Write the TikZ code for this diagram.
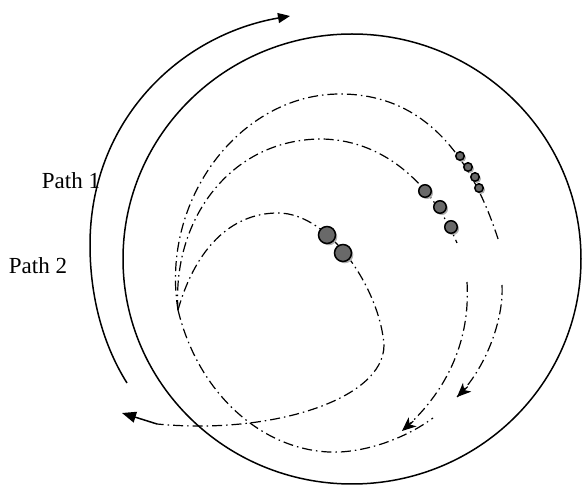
\documentclass[tikz,border=0pt]{standalone}
\usepackage{fontspec}
\setmainfont{Liberation Serif}
\usepackage{tikz}
\definecolor{beadfill}{RGB}{105,105,105}
\definecolor{beadshade}{RGB}{175,175,175}
\usetikzlibrary{arrows.meta,shadows,calc}

\begin{document}
\begin{tikzpicture}[x=1pt,y=-1pt,
		rim/.style={line width=1.5pt},
		track/.style={line width=1.2pt,dash pattern=on 10pt off 4pt on 1.5pt off 4pt},
		bead/.style={circle,draw=black,line width=1.5pt,fill=beadfill,inner sep=0pt,
			drop shadow={shadow xshift=1.8pt,shadow yshift=-1.8pt,fill=beadshade,opacity=1}},
		tip/.style={line width=1.2pt,-{Stealth[length=14pt,width=12pt,inset=4pt]}},
		label/.style={font=\fontsize{23}{27}\selectfont}]
						
						\useasboundingbox (0,0) rectangle (582,486);
						
						\draw[rim] (352,259) ellipse (229 and 225);
						
						\coordinate (sweepstart) at (127,383);
						\coordinate (sweepleft) at (90,245);
						\coordinate (sweepend) at (290,16);
						\draw[rim,-{Triangle[length=12pt,width=10pt]}] (sweepstart)
							.. controls (100,340) and (90,290) .. (sweepleft)
							.. controls (90,120) and (180,35) .. (sweepend);
						
						\node[label] (path1) at (71,181) {Path 1};
						\node[label] (path2) at (38,266) {Path 2};
						
						\coordinate (meet) at (178,310);
						
						\coordinate (innertop) at (278,213);
						\coordinate (innerright) at (384,345);
						\coordinate (innerend) at (157,424);
						\coordinate (innertip) at (122,413);
						\draw[track] (meet) .. controls (195,250) and (230,213) .. (innertop)
							.. controls (330,213) and (380,290) .. (innerright)
							.. controls (384,400) and (270,435) .. (innerend);
						\draw[rim,-{Triangle[length=14pt,width=11pt]}] (innerend) -- (innertip);
						
						\coordinate (midtop) at (320,139);
						\coordinate (midend) at (457,243);
						\coordinate (midstart) at (467,282);
						\coordinate (midtip) at (402,431);
						\draw[track] (meet) .. controls (172,220) and (230,140) .. (midtop)
							.. controls (380,139) and (430,180) .. (midend);
						\draw[track] (midstart) .. controls (470,330) and (455,385) .. (midtip);
						\draw[tip] ($(midtip)!15pt!(455,385)$) -- (midtip);
						
						\coordinate (outtop) at (340,94);
						\coordinate (outend) at (499,242);
						\coordinate (outstart) at (502,285);
						\coordinate (outtip) at (457,397);
						\draw[track] (meet) .. controls (160,200) and (240,94) .. (outtop)
							.. controls (420,94) and (470,150) .. (outend);
						\draw[track] (outstart) .. controls (504,320) and (485,370) .. (outtip);
						\draw[tip] ($(outtip)!15pt!(485,370)$) -- (outtip);
						
						\coordinate (lowbottom) at (340,452);
						\coordinate (lowend) at (433,418);
						\draw[track] (meet) .. controls (200,400) and (270,455) .. (lowbottom)
							.. controls (375,450) and (410,435) .. (lowend);
						
						\node[bead,minimum size=8.5pt] (s1) at (460,156) {};
						\node[bead,minimum size=8.5pt] (s2) at (468,167) {};
						\node[bead,minimum size=8.5pt] (s3) at (475,177) {};
						\node[bead,minimum size=8.5pt] (s4) at (479,188) {};
						
						\node[bead,minimum size=12.5pt] (m1) at (425,191) {};
						\node[bead,minimum size=12.5pt] (m2) at (440,207) {};
						\node[bead,minimum size=12.5pt] (m3) at (451,227) {};
						
						\node[bead,minimum size=17pt] (l1) at (327,235) {};
						\node[bead,minimum size=17pt] (l2) at (343,253) {};
						
					\end{tikzpicture}
\end{document}
